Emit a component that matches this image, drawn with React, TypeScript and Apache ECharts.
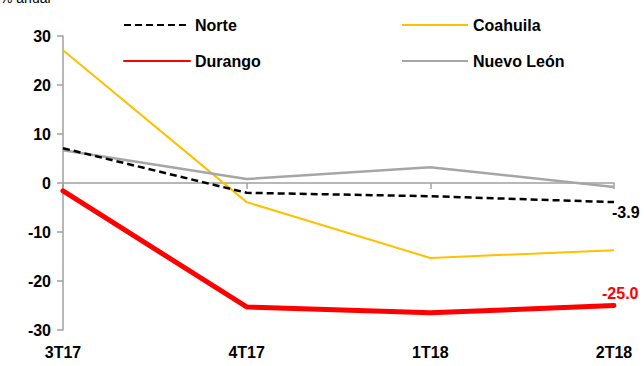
import React, { useEffect, useRef } from "react";
import * as echarts from "echarts";

const categories = ["3T17", "4T17", "1T18", "2T18"];
const norte = [7.1, -2.0, -2.7, -3.9];
const coahuila = [27.1, -3.9, -15.3, -13.7];
const durango = [-1.6, -25.3, -26.5, -25.0];
const nuevoLeon = [6.7, 0.8, 3.2, -0.8];
const yTicks = { min: -30, max: 30, interval: 10 };

const FONT = "Liberation Sans, Arial, sans-serif";

export default function App() {
  const ref = useRef<HTMLDivElement>(null);
  useEffect(() => {
    const chart = echarts.init(ref.current!, null, { renderer: "svg" });
    const endLabel = (color: string, offset: number[]) => ({
      show: true,
      offset,
      distance: 0,
      formatter: (p: any) => Number(p.value).toFixed(1),
      color,
      fontFamily: FONT,
      fontWeight: "bold",
      fontSize: 16,
    });
    const legendText = { fontFamily: FONT, fontWeight: "bold", fontSize: 16, color: "#000" };
    const legendBase = {
      orient: "vertical",
      top: 12,
      itemWidth: 66,
      itemHeight: 10,
      itemGap: 20,
      itemStyle: { opacity: 0 },
      textStyle: legendText,
    };
    chart.setOption({
      animation: false,
      backgroundColor: "#fff",
      graphic: [
        {
          type: "text",
          left: 0,
          top: -9,
          style: { text: "% anual", fontFamily: FONT, fontSize: 14, fill: "#000" },
        },
      ],
      legend: [
        { ...legendBase, data: ["Norte", "Durango"], left: 118 },
        { ...legendBase, data: ["Coahuila", "Nuevo León"], left: 396 },
      ],
      grid: { left: 63, right: 30, top: 36, bottom: 36 },
      xAxis: [
        {
          type: "category",
          data: categories,
          boundaryGap: false,
          axisLine: { onZero: true, lineStyle: { color: "#a0a0a0", width: 1.5 } },
          axisTick: { show: true, length: 6, lineStyle: { color: "#a0a0a0", width: 1.5 } },
          axisLabel: { show: false },
        },
        {
          type: "category",
          data: categories,
          boundaryGap: false,
          position: "bottom",
          axisLine: { show: false },
          axisTick: { show: false },
          axisLabel: {
            show: true,
            margin: 14,
            fontFamily: FONT,
            fontWeight: "bold",
            fontSize: 16,
            color: "#000",
          },
        },
      ],
      yAxis: {
        type: "value",
        min: yTicks.min,
        max: yTicks.max,
        interval: yTicks.interval,
        splitLine: { show: false },
        axisLine: { show: true, lineStyle: { color: "#a0a0a0", width: 1.5 } },
        axisTick: { show: true, length: 6, lineStyle: { color: "#a0a0a0", width: 1.5 } },
        axisLabel: {
          margin: 12,
          fontFamily: FONT,
          fontWeight: "bold",
          fontSize: 16,
          color: "#000",
        },
      },
      series: [
        {
          name: "Coahuila",
          type: "line",
          data: coahuila,
          symbol: "none",
          color: "#FFC000",
          lineStyle: { color: "#FFC000", width: 2 },
        },
        {
          name: "Nuevo León",
          type: "line",
          data: nuevoLeon,
          symbol: "none",
          color: "#A6A6A6",
          lineStyle: { color: "#A6A6A6", width: 2.5 },
        },
        {
          name: "Norte",
          type: "line",
          data: norte,
          symbol: "none",
          color: "#000",
          lineStyle: { color: "#000", width: 2.5, type: [7, 4] },
          endLabel: endLabel("#000", [-2, 10]),
        },
        {
          name: "Durango",
          type: "line",
          data: durango,
          symbol: "none",
          color: "#FF0000",
          lineStyle: { color: "#FF0000", width: 5, cap: "round" },
          endLabel: endLabel("#FF0000", [-12, -12]),
        },
      ],
    });
    return () => chart.dispose();
  }, []);
  return <div ref={ref} style={{ width: 644, height: 366, position: "absolute", left: 0, top: 0 }} />;
}
